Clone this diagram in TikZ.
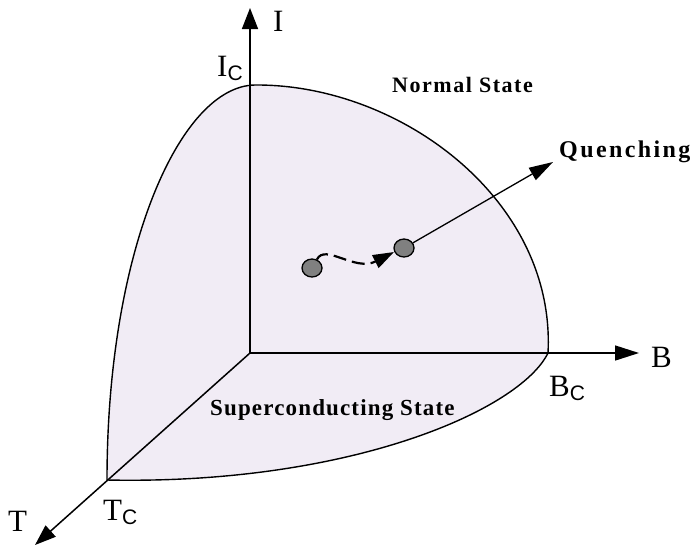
\documentclass[tikz,border=0pt]{standalone}
\usepackage{fontspec}
\setmainfont{Liberation Serif}
\newfontfamily\subfont{Liberation Sans}
\usetikzlibrary{arrows.meta,shapes.geometric}
\definecolor{surf}{RGB}{241,236,245}
\definecolor{dotgray}{RGB}{128,128,128}
\begin{document}
\begin{tikzpicture}[x=1pt,y=-1pt,
  axis/.style={line width=1.5pt},
  edge/.style={line width=1.4pt},
  lab/.style={inner sep=0pt,anchor=base west,font=\fontsize{31}{31}\selectfont},
  statelab/.style={inner sep=0pt,anchor=base west},
  dot/.style={ellipse,draw=black,fill=dotgray,line width=1.3pt,minimum width=20pt,minimum height=18pt,inner sep=0pt}]
\useasboundingbox (0,0) rectangle (700,547);
\newcommand{\subC}{\raisebox{-4pt}{\subfont\fontsize{21}{21}\selectfont C}}
% surface
\coordinate (O) at (250,353);
\coordinate (Itip) at (250,8);
\coordinate (Btip) at (639,353);
\coordinate (Ttip) at (35,545);
\coordinate (IC) at (255,85);
\coordinate (BC) at (548,353);
\coordinate (TC) at (107,480);
\fill[surf] (TC) .. controls (107,250) and (180,86) .. (IC)
  .. controls (400,84) and (556,200) .. (BC)
  .. controls (520,410) and (350,485) .. (TC) -- cycle;
\draw[edge] (TC) .. controls (107,250) and (180,86) .. (IC)
  .. controls (400,84) and (556,200) .. (BC)
  .. controls (520,410) and (350,485) .. (TC);
% axes
\draw[axis,-{Triangle[length=21pt,width=16pt]}] (O) -- (Itip);
\draw[axis,-{Triangle[length=24pt,width=15pt]}] (O) -- (Btip);
\draw[axis,-{Triangle[length=21pt,width=15pt]}] (O) -- (Ttip);
% labels
\node[lab] (Il) at (273,31) {I};
\node[lab] (ICl) at (217,76) {I\subC};
\node[lab] (Bl) at (651,367) {B};
\node[lab] (BCl) at (549,396) {B\subC};
\node[lab] (Tl) at (8,531) {T};
\node[lab] (TCl) at (103,520) {T\subC};
\node[statelab,font=\fontsize{22}{22}\selectfont\bfseries] (ns) at (392,92) {\addfontfeature{LetterSpace=7}Normal State};
\node[statelab,font=\fontsize{23}{23}\selectfont\bfseries] (ss) at (210,415) {\addfontfeature{LetterSpace=5}Superconducting State};
\node[statelab,font=\fontsize{24}{24}\selectfont\bfseries] (qu) at (559,157) {\addfontfeature{LetterSpace=10}Quenching};
\coordinate (qtip) at (553,162);
% dots
\node[dot] (d1) at (312,268) {};
\node[dot] (d2) at (404,248) {};
\draw[line width=1.3pt,-{Triangle[length=24pt,width=14pt]}] (d2) -- (qtip);
\draw[line width=2.2pt,dash pattern=on 13pt off 6pt,-{Triangle[length=21pt,width=14pt]}]
  (d1.60) .. controls (325,243) and (355,272) .. (394,252);
\end{tikzpicture}
\end{document}
